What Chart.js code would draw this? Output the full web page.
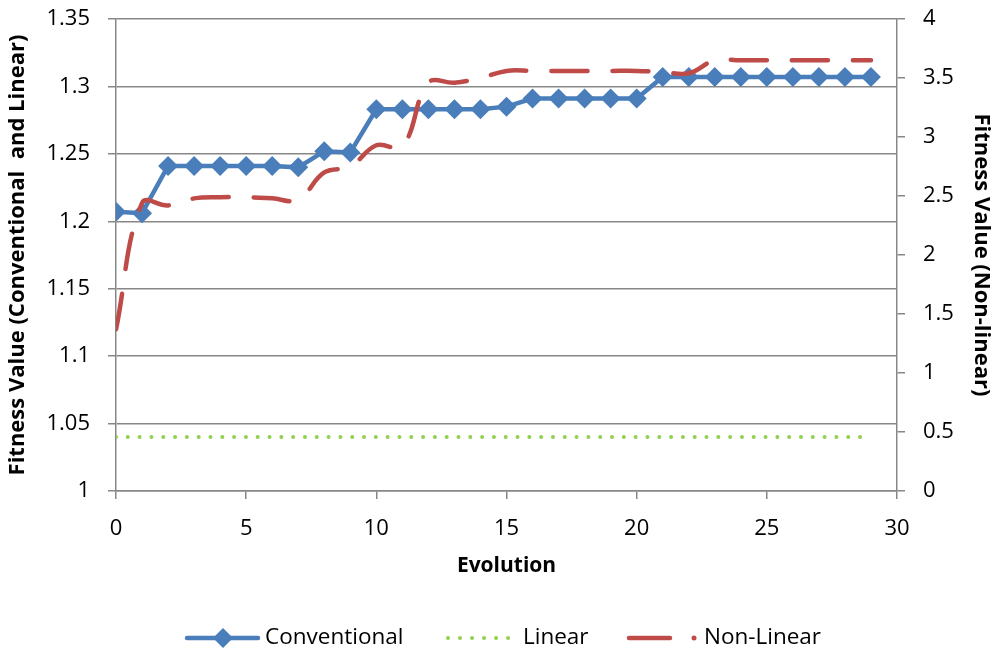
<!DOCTYPE html>
<html>
<head>
<meta charset="utf-8">
<script src="https://cdn.jsdelivr.net/npm/chart.js@4.4.1/dist/chart.umd.min.js"></script>
<style>
  body { margin: 0; background: #fff; }
  #wrap { width: 994px; height: 651px; }
</style>
</head>
<body>
<div id="wrap"><canvas id="fitnessChart" width="994" height="651"></canvas></div>
<script>
// values
const evolution = [0, 1, 2, 3, 4, 5, 6, 7, 8, 9, 10, 11, 12, 13, 14, 15, 16, 17, 18, 19, 20, 21, 22, 23, 24, 25, 26, 27, 28, 29];
const conventional = [1.207, 1.206, 1.241, 1.241, 1.241, 1.241, 1.241, 1.240, 1.252, 1.251, 1.283, 1.283, 1.283, 1.283, 1.283, 1.285, 1.291, 1.291, 1.291, 1.291, 1.291, 1.307, 1.307, 1.307, 1.307, 1.307, 1.307, 1.307, 1.307, 1.307];
const linear = [1.04, 1.04, 1.04, 1.04, 1.04, 1.04, 1.04, 1.04, 1.04, 1.04, 1.04, 1.04, 1.04, 1.04, 1.04, 1.04, 1.04, 1.04, 1.04, 1.04, 1.04, 1.04, 1.04, 1.04, 1.04, 1.04, 1.04, 1.04, 1.04, 1.04];
const nonLinear = [1.37, 2.44, 2.42, 2.48, 2.49, 2.49, 2.48, 2.47, 2.70, 2.75, 2.93, 2.92, 3.46, 3.46, 3.50, 3.56, 3.56, 3.56, 3.56, 3.56, 3.56, 3.55, 3.54, 3.65, 3.65, 3.65, 3.65, 3.65, 3.65, 3.65];

const leftTicks = ["1", "1.05", "1.1", "1.15", "1.2", "1.25", "1.3", "1.35"];
const rightTicks = ["0", "0.5", "1", "1.5", "2", "2.5", "3", "3.5", "4"];
const xTicks = ["0", "5", "10", "15", "20", "25", "30"];
const seriesNames = ["Conventional", "Linear", "Non-Linear"];

const BLUE = "#4A7EBB";
const RED = "#BE4B48";
const GREEN = "#92D050";
const GRID = "#878787";
const FONT = "'Open Sans', 'DejaVu Sans', sans-serif";

// legend drawn by hand so the line samples look like the original
const bottomLegend = {
  id: "bottomLegend",
  afterDraw(chart) {
    const ctx = chart.ctx;
    const y = 638;
    ctx.save();
    ctx.lineCap = "round";

    // Conventional
    ctx.strokeStyle = BLUE;
    ctx.lineWidth = 4.5;
    ctx.beginPath();
    ctx.moveTo(187, y);
    ctx.lineTo(258, y);
    ctx.stroke();
    ctx.fillStyle = BLUE;
    ctx.beginPath();
    ctx.moveTo(223, y - 10);
    ctx.lineTo(233, y);
    ctx.lineTo(223, y + 10);
    ctx.lineTo(213, y);
    ctx.closePath();
    ctx.fill();

    // Linear
    ctx.strokeStyle = GREEN;
    ctx.lineWidth = 4;
    ctx.setLineDash([0.01, 12]);
    ctx.beginPath();
    ctx.moveTo(448, y);
    ctx.lineTo(510, y);
    ctx.stroke();

    // Non-Linear
    ctx.strokeStyle = RED;
    ctx.lineWidth = 4.5;
    ctx.setLineDash([]);
    ctx.beginPath();
    ctx.moveTo(629, y);
    ctx.lineTo(670, y);
    ctx.stroke();
    ctx.fillStyle = RED;
    ctx.beginPath();
    ctx.arc(694, y, 2.5, 0, Math.PI * 2);
    ctx.fill();

    ctx.fillStyle = "#000";
    ctx.font = "22.5px " + FONT;
    ctx.textBaseline = "middle";
    ctx.textAlign = "left";
    ctx.fillText(seriesNames[0], 265, y);
    ctx.fillText(seriesNames[1], 523, y);
    ctx.fillText(seriesNames[2], 704, y);
    ctx.restore();
  }
};

// fixed axis sizes so the plot area sits where it does in the original
function fixVertical(width) {
  return (scale) => {
    scale.width = width;
    scale.paddingTop = 0;
    scale.paddingBottom = 0;
  };
}

const ctx = document.getElementById("fitnessChart").getContext("2d");
new Chart(ctx, {
  type: "line",
  data: {
    labels: evolution,
    datasets: [
      {
        label: seriesNames[0],
        data: conventional,
        yAxisID: "y",
        borderColor: BLUE,
        backgroundColor: BLUE,
        borderWidth: 4.5,
        tension: 0,
        pointStyle: "rectRot",
        pointRadius: 10,
        pointBorderWidth: 0,
        order: 2
      },
      {
        label: seriesNames[1],
        data: linear,
        yAxisID: "y",
        borderColor: GREEN,
        borderWidth: 4,
        borderDash: [0.01, 11.8],
        borderCapStyle: "round",
        pointRadius: 0,
        tension: 0,
        order: 1
      },
      {
        label: seriesNames[2],
        data: nonLinear,
        yAxisID: "y1",
        borderColor: RED,
        borderWidth: 4.5,
        borderDash: [36, 25],
        borderCapStyle: "round",
        pointRadius: 0,
        tension: 0.4,
        order: 0
      }
    ]
  },
  options: {
    responsive: false,
    animation: false,
    layout: { padding: { top: 19, left: 0, right: 0, bottom: 0 } },
    plugins: {
      legend: { display: false },
      tooltip: { enabled: false }
    },
    scales: {
      x: {
        type: "linear",
        min: 0,
        max: 30,
        afterFit: (scale) => {
          scale.height = 160;
          scale.paddingLeft = 0;
          scale.paddingRight = 0;
        },
        ticks: {
          stepSize: 5,
          padding: 17,
          color: "#000",
          font: { family: FONT, size: 22 },
          callback: (value) => xTicks[value / 5]
        },
        grid: { drawOnChartArea: false, drawTicks: true, tickLength: 8, color: GRID, lineWidth: 1.5 },
        border: { color: GRID, width: 1.5 },
        title: {
          display: true,
          text: "Evolution",
          color: "#000",
          font: { family: FONT, size: 21, weight: "bold", lineHeight: 1.2 },
          padding: { top: 0, bottom: 72 }
        }
      },
      y: {
        position: "left",
        min: 1,
        max: 1.35,
        afterFit: fixVertical(116),
        ticks: {
          stepSize: 0.05,
          padding: 18,
          color: "#000",
          font: { family: FONT, size: 22 },
          callback: (value, index) => leftTicks[index]
        },
        grid: { color: GRID, lineWidth: 1.5, tickLength: 8 },
        border: { color: GRID, width: 1.5 },
        title: {
          display: true,
          text: "Fitness Value (Conventional  and Linear)",
          color: "#000",
          font: { family: FONT, size: 22, weight: "bold", lineHeight: 1.2 },
          padding: { top: 5, bottom: 0 }
        }
      },
      y1: {
        position: "right",
        min: 0,
        max: 4,
        afterFit: fixVertical(97),
        ticks: {
          stepSize: 0.5,
          padding: 18,
          color: "#000",
          font: { family: FONT, size: 22 },
          callback: (value, index) => rightTicks[index]
        },
        grid: { drawOnChartArea: false, color: GRID, lineWidth: 1.5, tickLength: 8 },
        border: { color: GRID, width: 1.5 },
        title: {
          display: true,
          text: "Fitness Value (Non-linear)",
          color: "#000",
          font: { family: FONT, size: 22, weight: "bold", lineHeight: 1.2 },
          padding: { top: 0, bottom: 0 }
        }
      }
    }
  },
  plugins: [bottomLegend]
});
</script>
</body>
</html>
